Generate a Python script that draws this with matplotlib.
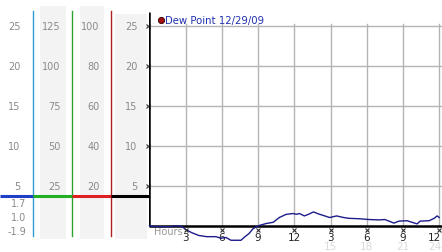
import matplotlib
matplotlib.use("Agg")
import matplotlib.pyplot as plt
import matplotlib.transforms as mtransforms
from matplotlib.patches import Rectangle

# ---- data ----
hours = [0.0, 0.17, 0.92, 1.75, 2.0, 2.67, 3.0, 3.5, 4.08, 4.75, 5.5, 5.92, 6.33,
         6.75, 7.58, 7.83, 8.25, 8.58, 9.08, 9.67, 10.25, 10.75, 11.33, 11.92,
         12.17, 12.42, 12.83, 13.17, 13.58, 14.0, 14.42, 14.92, 15.5, 16.08, 16.5,
         17.33, 18.17, 19.0, 19.5, 20.25, 20.67, 21.33, 21.75, 22.17, 22.42,
         23.17, 23.58, 23.83, 24.0]
dew_point = [0.0, -0.1, -0.15, -0.15, -0.05, -0.1, -0.5, -0.9, -1.25, -1.4, -1.4,
             -1.6, -1.5, -1.85, -1.85, -1.5, -1.0, -0.4, 0.0, 0.25, 0.4, 1.0, 1.4,
             1.5, 1.4, 1.5, 1.2, 1.4, 1.7, 1.45, 1.25, 1.0, 1.2, 1.0, 0.9, 0.85,
             0.75, 0.7, 0.75, 0.3, 0.55, 0.6, 0.4, 0.2, 0.55, 0.6, 0.9, 1.2, 1.0]
y_ticks = [25, 20, 15, 10, 5]
scale1 = ["25", "20", "15", "10", "5"]
scale2 = ["125", "100", "75", "50", "25"]
scale3 = ["100", "80", "60", "40", "20"]
scale4 = ["25", "20", "15", "10", "5"]
x_ticks = [3, 6, 9, 12, 15, 18, 21, 24]
x_labels = ["3", "6", "9", "12", "3", "6", "9", "12"]
x_labels2 = ["15", "18", "21", "24"]
stats = ["1.7", "1.0", "-1.9"]
legend_label = "Dew Point 12/29/09"

W, H = 442, 253
fig = plt.figure(figsize=(W / 100, H / 100), dpi=100)
fig.patch.set_facecolor("white")

# background axes in pixel coordinates
bg = fig.add_axes([0, 0, 1, 1])
bg.set_xlim(0, W)
bg.set_ylim(H, 0)
bg.axis("off")

# main axes
top_px, left_px = 13, 149
ax = fig.add_axes([left_px / W, 0, (W - left_px) / W, (H - top_px) / H])
ax.set_facecolor("none")
zero_px, ppu = 226.5, 7.98
ax.set_ylim((zero_px - H) / ppu, (zero_px - top_px) / ppu)
ax.set_xlim(-0.04, 24.23)
for s in ax.spines.values():
    s.set_visible(False)
ax.set_xticks([])
ax.set_yticks([])

grid_c = "#b4b4b4"
for v in y_ticks:
    ax.plot([0, 24.23], [v, v], color=grid_c, lw=1, clip_on=False, zorder=1)
for h in x_ticks:
    ax.plot([h, h], [0, 25.2], color=grid_c, lw=1, clip_on=False, zorder=1)

ax.plot([0, 24.23], [0, 0], color="black", lw=1.8, zorder=3, solid_capstyle="butt")
ax.plot([0, 0], [0, 26.75], color="black", lw=1.8, zorder=3, solid_capstyle="butt")

ax.plot(hours, dew_point, color="#1c1c8a", lw=1.0, zorder=4, clip_on=False)

# left scale panel
xpx_ydata = mtransforms.blended_transform_factory(bg.transData, ax.transData)
xdata_ypx = mtransforms.blended_transform_factory(ax.transData, bg.transData)

for x0, x1, y0 in [(40, 66, 7), (80, 104, 7), (115, 147, 15)]:
    bg.add_patch(Rectangle((x0, y0), x1 - x0, 240 - y0, facecolor="#f3f3f3",
                           edgecolor="none", zorder=0))

for xv, c in [(33, "#2e9ccc"), (72, "#2ea02e"), (111, "#b02020")]:
    bg.plot([xv, xv], [12, 237], color=c, lw=1.0, zorder=2)

for x0, x1, c in [(0, 33, "#1f3fc8"), (33, 72, "#22b022"), (72, 111, "#e02020"),
                  (111, 149, "black")]:
    bg.plot([x0, x1], [196.5, 196.5], color=c, lw=2.2,
            zorder=3, solid_capstyle="butt")

lab_c = "#8a8a8a"
fs = 7
for labels, xr in [(scale1, 20.5), (scale2, 60.5), (scale3, 99.5), (scale4, 137.5)]:
    for v, t in zip(y_ticks, labels):
        bg.text(xr, v, t, transform=xpx_ydata, ha="right", va="center",
                fontsize=fs, color=lab_c, zorder=5)

for yp, t in zip([204, 218, 232.5], stats):
    bg.text(26.5, yp, t, ha="right", va="center", fontsize=fs, color=lab_c)

# tick glyphs
for v in y_ticks:
    bg.plot([147.8], [v], transform=xpx_ydata, marker="x", ms=2.6,
            color="#333333", mew=0.8, zorder=5)
for h in x_ticks:
    ax.plot([h], [231], transform=xdata_ypx, marker="x", ms=2.6,
            color="#333333", mew=0.8, zorder=5, clip_on=False)

for i, (h, t) in enumerate(zip(x_ticks, x_labels)):
    if i == len(x_ticks) - 1:
        bg.text(441.5, 238.5, t, ha="right", va="center", fontsize=7.5,
                color="#222222")
    else:
        ax.text(h, 238.5, t, transform=xdata_ypx, ha="center", va="center",
                fontsize=7.5, color="#222222")
for i, (h, t) in enumerate(zip(x_ticks[4:], x_labels2)):
    if i == len(x_labels2) - 1:
        bg.text(441.5, 247.5, t, ha="right", va="center", fontsize=7.5,
                color="#dadada")
    else:
        ax.text(h, 247.5, t, transform=xdata_ypx, ha="center", va="center",
                fontsize=7.5, color="#dadada")

bg.text(154, 232, "Hours", ha="left", va="center", fontsize=7, color="#9a9a9a", zorder=5)

# legend
bg.plot([160.5], [21], marker="o", ms=4.5, color="#a01010", mec="#300000",
        mew=0.6, zorder=6)
bg.text(165, 21, legend_label, ha="left", va="center", fontsize=7.3,
        color="#2030b0", zorder=6)

fig.savefig("out.png", dpi=100)
